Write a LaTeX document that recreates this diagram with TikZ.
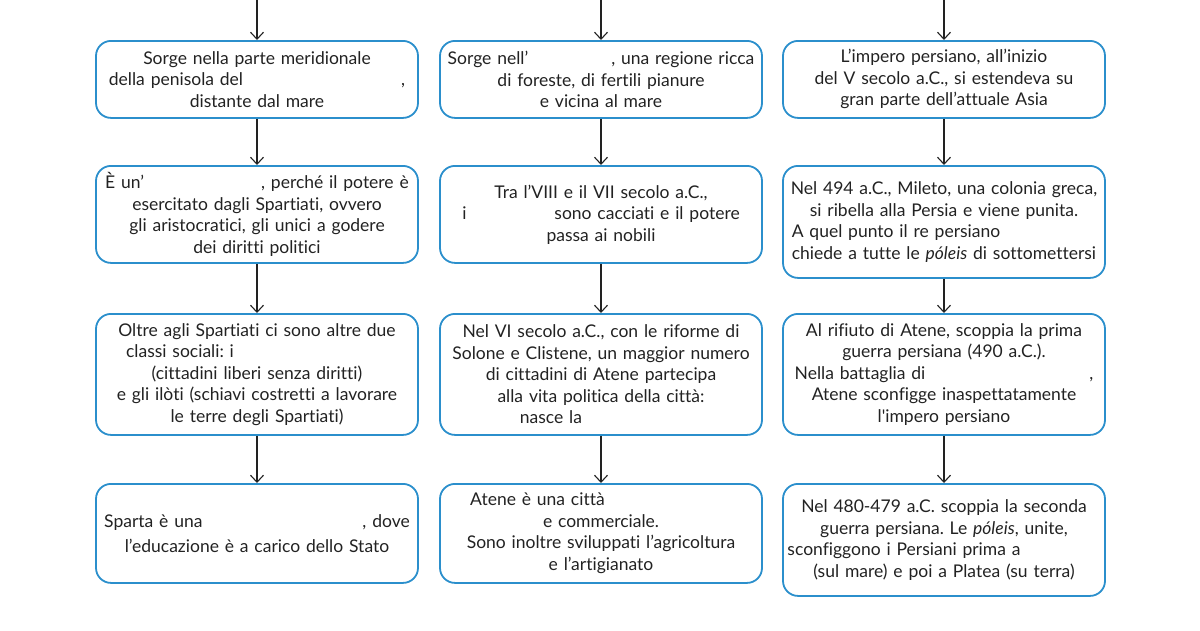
\documentclass[tikz,border=0pt]{standalone}
\usepackage{fontspec}
\setmainfont[Ligatures=NoCommon]{Lato}
\usetikzlibrary{arrows.meta}
\definecolor{boxblue}{RGB}{43,143,204}
\definecolor{ink}{RGB}{34,34,34}
\newcommand{\blank}[1]{\hspace*{#1}\mbox{}}

\begin{document}
\begin{tikzpicture}[x=1pt, y=-1pt, >={Straight Barb[length=7pt,width=13pt]},
	box/.style={draw=boxblue, line width=1.8pt, rounded corners=15pt, anchor=north,
		minimum width=322pt, text width=320pt, inner xsep=1pt, inner ysep=2pt, align=center,
		font=\fontsize{17.5}{21.5}\selectfont\frenchspacing, text=ink},
	link/.style={->, color=ink, line width=1.1pt}]
	\useasboundingbox (0,0) rectangle (1200,630);

	% free ends at the top
	\coordinate (sp0) at (257,0);
	\coordinate (at0) at (601,0);
	\coordinate (pe0) at (944,0);

	% Sparta
	\node[box, minimum height=77pt] (sp1) at (257,40) {Sorge nella parte meridionale\\
		della penisola del\blank{158pt},\\ distante dal mare};
	\node[box, minimum height=97pt] (sp2) at (257,165) {È un’\blank{117pt}, perché il potere è\\
		esercitato dagli Spartiati, ovvero\\ gli aristocratici, gli unici a godere\\ dei diritti politici};
	\node[box, minimum height=121pt] (sp3) at (257,313) {Oltre agli Spartiati ci sono altre due\\
		classi sociali: i\blank{154pt}\\ (cittadini liberi senza diritti)\\
		e gli ilòti (schiavi costretti a lavorare\\ le terre degli Spartiati)};
	\node[box, minimum height=99pt] (sp4) at (257,483) {Sparta è una\blank{160pt}, dove\\[4pt]
		l’educazione è a carico dello Stato};

	% Atene
	\node[box, minimum height=77pt] (at1) at (601,40) {Sorge nell’\blank{83pt}, una regione ricca\\
		di foreste, di fertili pianure\\ e vicina al mare};
	\node[box, minimum height=97pt] (at2) at (601,165) {Tra l’VIII e il VII secolo a.C.,\\
		i\blank{88pt}sono cacciati e il potere\\ passa ai nobili};
	\node[box, minimum height=121pt] (at3) at (601,313) {Nel VI secolo a.C., con le riforme di\\
		Solone e Clistene, un maggior numero\\ di cittadini di Atene partecipa\\
		alla vita politica della città:\\ nasce la\blank{100pt}};
	\node[box, minimum height=99pt] (at4) at (601,483) {Atene è una città\blank{127pt}\\
		e commerciale.\\ Sono inoltre sviluppati l’agricoltura\\ e l’artigianato};

	% Persia
	\node[box, minimum height=77pt] (pe1) at (944,40) {L’impero persiano, all’inizio\\
		del V secolo a.C., si estendeva su\\ gran parte dell’attuale Asia};
	\node[box, minimum height=112pt] (pe2) at (944,165) {Nel 494 a.C., Mileto, una colonia greca,\\
		si ribella alla Persia e viene punita.\\ A quel punto il re persiano\blank{96pt}\\
		chiede a tutte le \textit{póleis} di sottomettersi};
	\node[box, minimum height=121pt] (pe3) at (944,313) {Al rifiuto di Atene, scoppia la prima\\
		guerra persiana (490 a.C.).\\ Nella battaglia di\blank{164pt},\\
		Atene sconfigge inaspettatamente\\ l\textquotesingle impero persiano};
	\node[box, minimum height=112pt] (pe4) at (944,483) {Nel 480-479 a.C. scoppia la seconda\\
		guerra persiana. Le \textit{póleis}, unite,\\ sconfiggono i Persiani prima a\blank{80pt}\\
		(sul mare) e poi a Platea (su terra)};

	\path[link]
	(sp0) edge (sp1)
	(sp1) edge (sp2)
	(sp2) edge (sp3)
	(sp3) edge (sp4)
	(at0) edge (at1)
	(at1) edge (at2)
	(at2) edge (at3)
	(at3) edge (at4)
	(pe0) edge (pe1)
	(pe1) edge (pe2)
	(pe2) edge (pe3)
	(pe3) edge (pe4);
\end{tikzpicture}
\end{document}
